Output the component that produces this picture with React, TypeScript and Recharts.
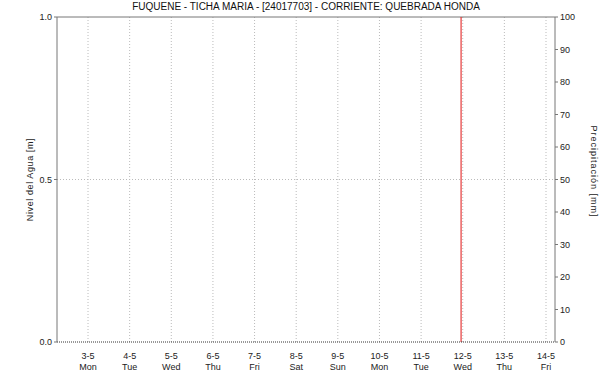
import { ComposedChart, Line, Bar, XAxis, YAxis, CartesianGrid, ReferenceLine } from "recharts";

const title = "FUQUENE - TICHA MARIA - [24017703] - CORRIENTE: QUEBRADA HONDA";
const dayTicks = [3, 4, 5, 6, 7, 8, 9, 10, 11, 12, 13, 14];
const dateLabels = ["3-5", "4-5", "5-5", "6-5", "7-5", "8-5", "9-5", "10-5", "11-5", "12-5", "13-5", "14-5"];
const weekdays = ["Mon", "Tue", "Wed", "Thu", "Fri", "Sat", "Sun", "Mon", "Tue", "Wed", "Thu", "Fri"];
const levelTicks = [0, 0.5, 1];
const rainTicks = [0, 10, 20, 30, 40, 50, 60, 70, 80, 90, 100];
// no level readings and no rain in the window, only the "now" marker
const levelValues: (number | null)[] = [null, null, null, null, null, null, null, null, null, null, null, null];
const rainValues = [0, 0, 0, 0, 0, 0, 0, 0, 0, 0, 0, 0];
const nowMarker = 11.96;
const xDomain = [2.255, 14.216];

const data = dayTicks.map((d, i) => ({ day: d, nivel: levelValues[i], lluvia: rainValues[i] }));

const font = "Liberation Sans, Arial, sans-serif";

function DayTick(props: any) {
  const { x, y, payload } = props;
  const i = dayTicks.indexOf(payload.value);
  return (
    <g>
      <text x={x} y={y + 9} textAnchor="middle" fontSize={9} fill="#222" fontFamily={font}>
        {dateLabels[i]}
      </text>
      <text x={x} y={y + 20} textAnchor="middle" fontSize={9} fill="#222" fontFamily={font}>
        {weekdays[i]}
      </text>
    </g>
  );
}

export default function App() {
  return (
    <div style={{ position: "absolute", left: 0, top: 0, width: 602, height: 382, background: "#fff" }}>
      <div style={{ position: "absolute", left: 0, top: 1, width: 612, textAlign: "center", fontFamily: font, fontSize: 10, color: "#111" }}>
        {title}
      </div>
      <ComposedChart width={602} height={382} data={data} margin={{ top: 17, right: 0, bottom: 0, left: 0 }}>
        <CartesianGrid yAxisId="nivel" stroke="#bbb" strokeDasharray="1 2" horizontalValues={[0.5]} verticalValues={dayTicks} />
        <XAxis
          dataKey="day"
          type="number"
          domain={xDomain}
          ticks={dayTicks}
          height={40}
          tick={<DayTick />}
          tickLine={false}
          axisLine={{ stroke: "#333", strokeDasharray: "1 1" }}
          allowDataOverflow
        />
        <YAxis
          yAxisId="nivel"
          type="number"
          domain={[0, 1]}
          allowDataOverflow
          ticks={levelTicks}
          width={57}
          tickSize={3}
          tickFormatter={(v: number) => v.toFixed(1)}
          tick={{ fontSize: 9, fill: "#222", fontFamily: font }}
          tickLine={{ stroke: "#777" }}
          axisLine={{ stroke: "#777" }}
          label={{ value: "Nivel del Agua [m]", angle: -90, position: "insideLeft", offset: 30, style: { fontSize: 9, letterSpacing: 0.6, fill: "#222", fontFamily: font, textAnchor: "middle" } }}
        />
        <YAxis
          yAxisId="lluvia"
          type="number"
          orientation="right"
          domain={[0, 100]}
          allowDataOverflow
          ticks={rainTicks}
          width={47}
          tickSize={3}
          tick={{ fontSize: 9, fill: "#222", fontFamily: font }}
          tickLine={{ stroke: "#777" }}
          axisLine={{ stroke: "#777" }}
          label={{ value: "Precipitación [mm]", angle: 90, position: "insideRight", offset: 8, dy: -8, style: { fontSize: 9, letterSpacing: 1, fill: "#222", fontFamily: font, textAnchor: "middle" } }}
        />
        <ReferenceLine yAxisId="nivel" y={1} stroke="#777" />
        <Bar yAxisId="lluvia" dataKey="lluvia" fill="#3a7bd5" barSize={20} isAnimationActive={false} />
        <Line yAxisId="nivel" dataKey="nivel" stroke="#1f3fbf" dot={false} isAnimationActive={false} connectNulls={false} />
        <ReferenceLine yAxisId="nivel" x={nowMarker} stroke="#e01010" strokeWidth={1} />
      </ComposedChart>
    </div>
  );
}
